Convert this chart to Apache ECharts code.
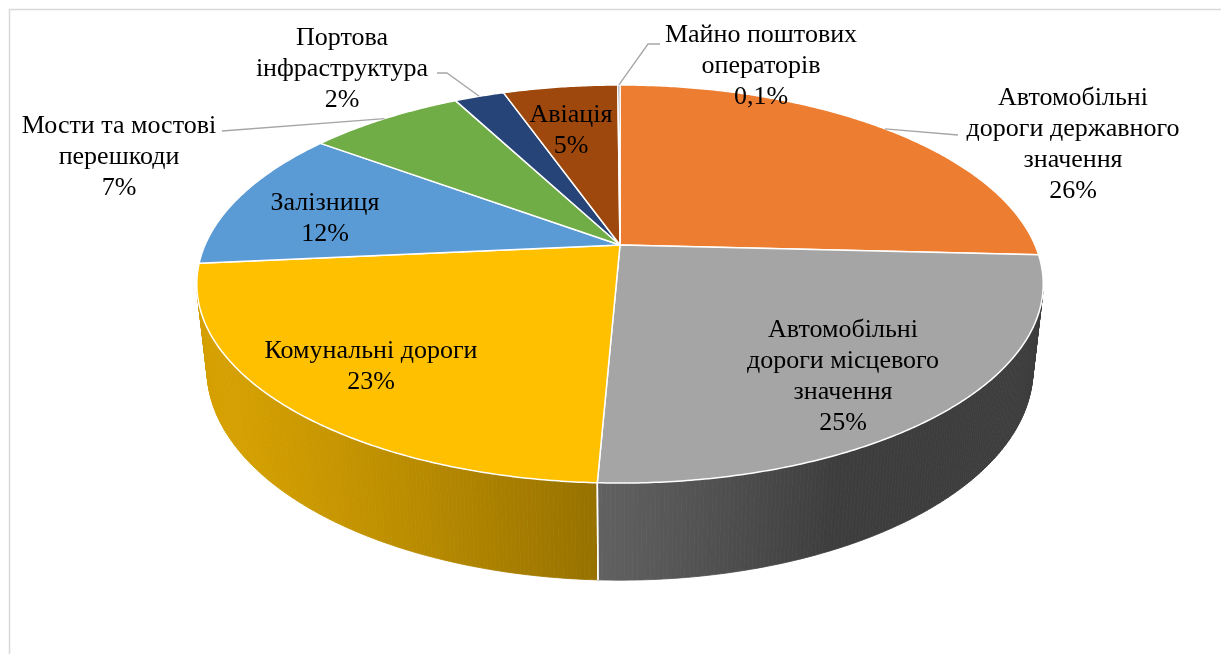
<!DOCTYPE html>
<html>
<head>
<meta charset="utf-8">
<script src="https://cdn.jsdelivr.net/npm/echarts@6/dist/echarts.min.js"></script>
<style>
  html, body { margin: 0; padding: 0; background: #fff; }
  #chart { width: 1221px; height: 654px; }
</style>
</head>
<body>
<div id="chart"></div>
<script>
// дані діаграми (частки, %)
const categories = [
  'Автомобільні\nдороги державного\nзначення',
  'Автомобільні\nдороги місцевого\nзначення',
  'Комунальні дороги',
  'Залізниця',
  'Мости та мостові\nперешкоди',
  'Портова\nінфраструктура',
  'Авіація',
  'Майно поштових\nоператорів'
];
const shares = [25.8, 24.9, 22.8, 11.6, 7.2, 2.3, 5.3, 0.1];
const colors = ['#ED7D31', '#A5A5A5', '#FFC000', '#5B9BD5', '#70AD47', '#264478', '#9E480E', '#636363'];

// розташування підписів (центр тексту) і точки виносок
const labelPos = [[1073, 145], [843, 377], [371, 367], [325, 219], [119, 157], [342, 69], [571, 131], [761, 66]];
const leaderPts = { 0: [[958, 135]], 4: [[222, 131]], 5: [[447, 73], [437, 73]], 7: [[648, 44], [660, 44]] };

// --- 3D проекція (камера над диском) ---
const cx = 620, cy = 245;
const sinA = 0.4612, cosA = 0.8873;
const dist = 4.527, focal = 1878.7, thick = 0.2337;
const vLimit = -1 / (dist * cosA);   // межа видимої бічної поверхні

function project(phi, z) {
  const u = Math.sin(phi), v = Math.cos(phi);
  const yc = v * sinA + z * cosA;
  const zc = dist + v * cosA - z * sinA;
  return [cx + focal * u / zc, cy - focal * yc / zc];
}

function shade(hex, phi) {
  const u = Math.sin(phi), v = Math.cos(phi);
  const k = 0.37 + Math.max(0, -0.42 * u - 0.2 * v);
  const n = parseInt(hex.slice(1), 16);
  const r = Math.round(((n >> 16) & 255) * k);
  const g = Math.round(((n >> 8) & 255) * k);
  const b = Math.round((n & 255) * k);
  return `rgb(${r},${g},${b})`;
}

const total = shares.reduce((a, b) => a + b, 0);
const startAngles = [];
let acc = 0;
shares.forEach(v => { startAngles.push(acc / total * Math.PI * 2); acc += v; });

function pctText(v) {
  const p = v / total * 100;
  return p < 1 ? p.toFixed(1).replace('.', ',') + '%' : Math.round(p) + '%';
}

const STEP = Math.PI / 360;

function renderItem(params, api) {
  const i = params.dataIndex;
  const a0 = startAngles[i];
  const a1 = a0 + shares[i] / total * Math.PI * 2;
  const children = [];

  // верхня грань
  const top = [[cx, cy]];
  const n = Math.max(1, Math.ceil((a1 - a0) / STEP));
  for (let k = 0; k <= n; k++) top.push(project(a0 + (a1 - a0) * k / n, 0));
  children.push({
    type: 'polygon', z2: 200,
    shape: { points: top },
    style: { fill: colors[i], stroke: '#fff', lineWidth: 1.5, lineJoin: 'round' }
  });

  // бічна поверхня смугами
  for (let k = 0; k < n; k++) {
    const p0 = a0 + (a1 - a0) * k / n, p1 = a0 + (a1 - a0) * (k + 1) / n;
    const pm = (p0 + p1) / 2;
    if (Math.cos(pm) > vLimit + 0.02) continue;
    const c = shade(colors[i], pm);
    children.push({
      type: 'polygon', z2: 100,
      shape: { points: [project(p0, 0), project(p1, 0), project(p1, -thick), project(p0, -thick)] },
      style: { fill: c, stroke: c, lineWidth: 0.8 }
    });
  }
  [a0, a1].forEach(a => {
    if (Math.cos(a) < vLimit) {
      const t = project(a, 0), b = project(a, -thick);
      children.push({
        type: 'line', z2: 150,
        shape: { x1: t[0], y1: t[1], x2: b[0], y2: b[1] },
        style: { stroke: '#fff', lineWidth: 1.5 }
      });
    }
  });

  // виноска
  if (leaderPts[i]) {
    const mid = project((a0 + a1) / 2, 0);
    children.push({
      type: 'polyline', z2: 250,
      shape: { points: [mid].concat(leaderPts[i]) },
      style: { stroke: '#a6a6a6', lineWidth: 1.3, fill: null }
    });
  }

  // підпис
  children.push({
    type: 'text', z2: 300,
    x: labelPos[i][0], y: labelPos[i][1],
    style: {
      text: categories[i] + '\n' + pctText(shares[i]),
      fill: '#000',
      fontSize: 26,
      fontFamily: '"Liberation Serif", "Times New Roman", serif',
      align: 'center',
      verticalAlign: 'middle',
      lineHeight: 31
    }
  });

  return { type: 'group', children };
}

const chart = echarts.init(document.getElementById('chart'));
chart.setOption({
  animation: false,
  backgroundColor: '#fff',
  graphic: [{
    type: 'rect', silent: true,
    shape: { x: 9.5, y: 9.5, width: 1300, height: 700 },
    style: { fill: null, stroke: '#d9d9d9', lineWidth: 1.5 }
  }],
  series: [{
    type: 'custom',
    coordinateSystem: 'none',
    silent: true,
    data: shares,
    renderItem: renderItem
  }]
});
</script>
</body>
</html>
